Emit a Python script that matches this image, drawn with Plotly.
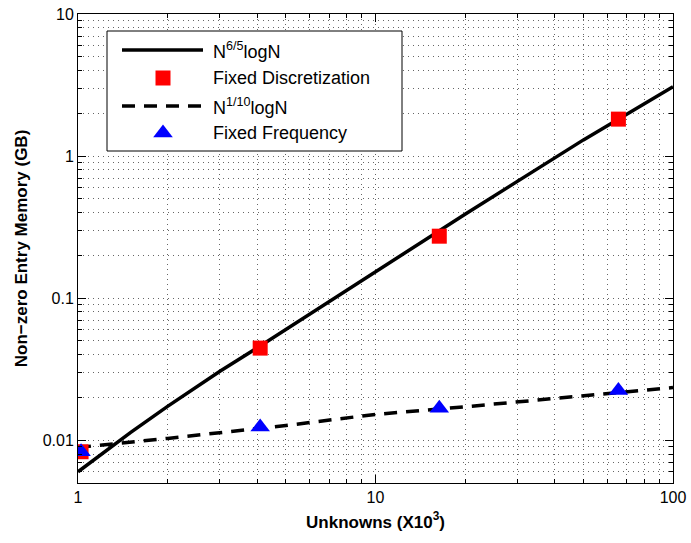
import plotly.graph_objects as go

# Unknowns in thousands, memory in GB
fixed_disc_x = [1.024, 4.096, 16.384, 65.536]
fixed_disc_y = [0.0083, 0.0445, 0.273, 1.82]

fixed_freq_x = [1.024, 4.096, 16.384, 65.536]
fixed_freq_y = [0.0083, 0.0124, 0.0168, 0.0224]

# Reference scaling curves
curve_65_x = [1, 1.5, 2, 3, 4.096, 10, 20, 50, 100]
curve_65_y = [0.0060, 0.0113, 0.0173, 0.0306, 0.046, 0.153, 0.39, 1.30, 3.08]

curve_110_x = [1, 2, 5, 10, 20, 50, 100]
curve_110_y = [0.0089, 0.0103, 0.0127, 0.0152, 0.0172, 0.0205, 0.0235]

x_tickvals = [1, 10, 100]
x_ticktext = ["1", "10", "100"]
y_tickvals = [0.01, 0.1, 1, 10]
y_ticktext = ["0.01", "0.1", "1", "10"]
x_minor = [2, 3, 4, 5, 6, 7, 8, 9, 20, 30, 40, 50, 60, 70, 80, 90]
y_minor = [0.006, 0.007, 0.008, 0.009, 0.02, 0.03, 0.04, 0.05, 0.06, 0.07, 0.08, 0.09,
           0.2, 0.3, 0.4, 0.5, 0.6, 0.7, 0.8, 0.9, 2, 3, 4, 5, 6, 7, 8, 9]

legend_labels = ["N<sup>6/5</sup>logN", "Fixed Discretization",
                 "N<sup>1/10</sup>logN", "Fixed Frequency"]

W, H = 691, 543
L, R, T, B = 78, 673, 14, 483
FONT = "Liberation Sans, Arial, Helvetica, sans-serif"
GRID = dict(showgrid=True, gridcolor="#666666", gridwidth=1, griddash="1px,4px")
DASH = "13px,9px"
RED, BLUE = "#ff0000", "#0000ff"
SQ_SIZE, TRI_SIZE = 15, 17

fig = go.Figure()

fig.add_trace(go.Scatter(x=curve_65_x, y=curve_65_y, mode="lines",
                         line=dict(color="black", width=3.5), showlegend=False))
fig.add_trace(go.Scatter(x=curve_110_x, y=curve_110_y, mode="lines",
                         line=dict(color="black", width=3.5, dash=DASH),
                         showlegend=False))
fig.add_trace(go.Scatter(x=fixed_disc_x, y=fixed_disc_y, mode="markers",
                         marker=dict(symbol="square", size=SQ_SIZE, color=RED,
                                     line=dict(width=0)),
                         showlegend=False))
fig.add_trace(go.Scatter(x=fixed_freq_x, y=fixed_freq_y, mode="markers",
                         marker=dict(symbol="triangle-up", size=TRI_SIZE, color=BLUE,
                                     line=dict(width=0)),
                         showlegend=False))

# Legend box, drawn on an overlay axis measured in page pixels (y grows downward)
box_l, box_r, box_t, box_b = 107, 402, 31, 151
rows = [50, 78, 106, 133]
samp_l, samp_r, samp_c, text_x = 122, 203, 163, 211

shape_ref = dict(xref="x2", yref="y2", layer="above")
fig.add_shape(type="rect", x0=box_l, x1=box_r, y0=box_t, y1=box_b,
              line=dict(color="black", width=1), fillcolor="white", **shape_ref)
fig.add_shape(type="line", x0=samp_l, x1=samp_r, y0=rows[0], y1=rows[0],
              line=dict(color="black", width=3.5), **shape_ref)
fig.add_shape(type="rect", x0=samp_c - SQ_SIZE / 2, x1=samp_c + SQ_SIZE / 2,
              y0=rows[1] - SQ_SIZE / 2, y1=rows[1] + SQ_SIZE / 2,
              line=dict(width=0), fillcolor=RED, **shape_ref)
fig.add_shape(type="line", x0=samp_l, x1=samp_r, y0=rows[2], y1=rows[2],
              line=dict(color="black", width=3.5, dash=DASH), **shape_ref)
r = TRI_SIZE / 2
rt = r * 2 / 3 ** 0.5
tri_path = (f"M{samp_c - rt},{rows[3] + r / 2} L{samp_c + rt},{rows[3] + r / 2} "
            f"L{samp_c},{rows[3] - r} Z")
fig.add_shape(type="path", path=tri_path, line=dict(width=0), fillcolor=BLUE,
              **shape_ref)

for label, ry in zip(legend_labels, rows):
    fig.add_annotation(x=text_x, y=ry, xref="x2", yref="y2", text=label,
                       showarrow=False, xanchor="left", yanchor="middle",
                       font=dict(family=FONT, size=18, color="black"))

axis_common = dict(type="log", showline=True, linecolor="black", linewidth=1,
                   mirror="ticks", ticks="inside", ticklen=8, tickcolor="black",
                   tickfont=dict(family=FONT, size=16, color="black"),
                   zeroline=False, automargin=False, **GRID)

fig.update_layout(
    width=W, height=H,
    margin=dict(l=L, r=W - R, t=T, b=H - B, autoexpand=False),
    paper_bgcolor="white", plot_bgcolor="white",
    xaxis=dict(range=[0, 2], tickvals=x_tickvals, ticktext=x_ticktext,
               minor=dict(tickvals=x_minor, ticks="inside", ticklen=4,
                          tickcolor="black", **GRID),
               title=dict(text="<b>Unknowns (X10<sup>3</sup>)</b>", standoff=10,
                          font=dict(family=FONT, size=17, color="black")),
               **axis_common),
    yaxis=dict(range=[-2.30103, 1], tickvals=y_tickvals, ticktext=y_ticktext,
               minor=dict(tickvals=y_minor, ticks="inside", ticklen=4,
                          tickcolor="black", **GRID),
               title=dict(text="<b>Non\u2212zero Entry Memory (GB)</b>", standoff=10,
                          font=dict(family=FONT, size=17, color="black")),
               **axis_common),
    xaxis2=dict(range=[L, R], overlaying="x", visible=False, fixedrange=True,
                automargin=False),
    yaxis2=dict(range=[B, T], overlaying="y", visible=False, fixedrange=True,
                automargin=False),
    showlegend=False,
)

fig.write_html("out.html")
